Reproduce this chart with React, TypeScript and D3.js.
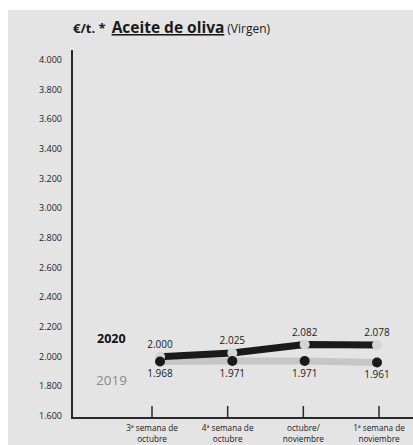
import * as d3 from "d3";
import React, { useEffect } from "react";

const categories = [
  ["3ª semana de", "octubre"],
  ["4ª semana de", "octubre"],
  ["octubre/", "noviembre"],
  ["1ª semana de", "noviembre"],
];
const values2020 = [2000, 2025, 2082, 2078];
const values2019 = [1968, 1971, 1971, 1961];
const yTicks = [1600, 1800, 2000, 2200, 2400, 2600, 2800, 3000, 3200, 3400, 3600, 3800, 4000];

const W = 413;
const H = 445;
const font = "'Open Sans', 'Noto Sans', sans-serif";

const fmt = (v: number) => d3.format(",.0f")(v).replace(/,/g, ".");

const App: React.FC = () => {
  useEffect(() => {
    document.body.style.margin = "0";
  }, []);

  const y = d3.scaleLinear().domain([1600, 4000]).range([416, 60]);
  const xTick = d3.scalePoint<number>().domain([0, 1, 2, 3]).range([152, 379]);
  const xPt = d3.scalePoint<number>().domain([0, 1, 2, 3]).range([160, 377]);

  const line = d3
    .line<number>()
    .x((_, i) => xPt(i)!)
    .y((d) => y(d));

  return (
    <svg width={W} height={H} style={{ display: "block" }}>
      <rect x={8} y={10} width={W - 8} height={H - 10} fill="#e4e4e4" />

      {/* title */}
      <text x={73} y={33} fontFamily={font} fill="#1a1a1a">
        <tspan fontSize={13} fontWeight={700}>€/t. *</tspan>
        <tspan dx={6} fontSize={15.5} fontWeight={700} textDecoration="underline">
          Aceite de oliva
        </tspan>
        <tspan dx={3} fontSize={12}>(Virgen)</tspan>
      </text>

      {/* y axis */}
      <line x1={72} x2={72} y1={50} y2={418} stroke="#2a2a2a" strokeWidth={2} />
      {yTicks.map((t) => (
        <text
          key={t}
          x={62}
          y={y(t)}
          dy="0.35em"
          textAnchor="end"
          fontFamily={font}
          fontSize={9}
          fill="#222"
        >
          {fmt(t)}
        </text>
      ))}

      {/* x axis */}
      <line x1={71} x2={W} y1={418} y2={418} stroke="#2a2a2a" strokeWidth={2} />
      {categories.map((c, i) => (
        <g key={i}>
          <line
            x1={xTick(i)}
            x2={xTick(i)}
            y1={406}
            y2={418}
            stroke="#2a2a2a"
            strokeWidth={1.5}
          />
          <text
            x={xTick(i)}
            y={430.5}
            textAnchor="middle"
            fontFamily={font}
            fontSize={8.2}
            fill="#1a1a1a"
          >
            <tspan x={xTick(i)}>{c[0]}</tspan>
            <tspan x={xTick(i)} dy={11.2}>{c[1]}</tspan>
          </text>
        </g>
      ))}

      {/* 2019 series */}
      <path
        d={line(values2019)!}
        fill="none"
        stroke="#c6c6c6"
        strokeWidth={7}
        strokeLinejoin="round"
        strokeLinecap="round"
      />
      {/* 2020 series */}
      <path
        d={line(values2020)!}
        fill="none"
        stroke="#1a1a1a"
        strokeWidth={7}
        strokeLinejoin="round"
      />
      {values2020.map((v, i) => (
        <circle key={"a" + i} cx={xPt(i)} cy={y(v)} r={5} fill="#d4d4d4" />
      ))}
      {values2019.map((v, i) => (
        <circle key={"b" + i} cx={xPt(i)} cy={y(v)} r={5} fill="#1a1a1a" />
      ))}
      {values2020.map((v, i) => (
        <text
          key={"ta" + i}
          x={xPt(i)}
          y={y(v) - 9}
          textAnchor="middle"
          fontFamily={font}
          fontSize={10}
          fill="#1a1a1a"
        >
          {fmt(v)}
        </text>
      ))}
      {values2019.map((v, i) => (
        <text
          key={"tb" + i}
          x={xPt(i)}
          y={y(v) + 16}
          textAnchor="middle"
          fontFamily={font}
          fontSize={10}
          fill="#1a1a1a"
        >
          {fmt(v)}
        </text>
      ))}

      {/* legend labels */}
      <text x={97} y={343} fontFamily={font} fontSize={12.5} fontWeight={700} fill="#111">
        2020
      </text>
      <text x={96} y={385} fontFamily={font} fontSize={13.5} fill="#8a8a8a">
        2019
      </text>
    </svg>
  );
};

export default App;
